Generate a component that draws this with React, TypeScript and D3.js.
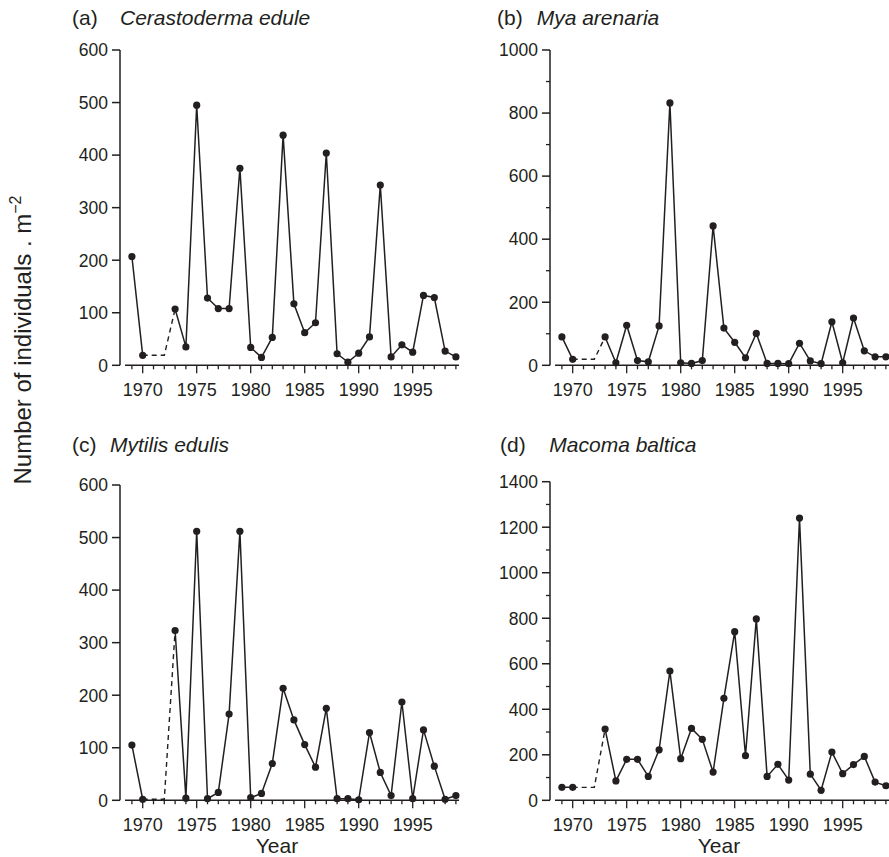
import React from 'react';
import * as d3 from 'd3';

// Survey years (1971 and 1972 were not sampled)
const YEARS = [
  1969, 1970, 1971, 1972, 1973, 1974, 1975, 1976, 1977, 1978, 1979, 1980, 1981, 1982, 1983, 1984,
  1985, 1986, 1987, 1988, 1989, 1990, 1991, 1992, 1993, 1994, 1995, 1996, 1997, 1998, 1999,
];
const YEAR_LABELS = [1970, 1975, 1980, 1985, 1990, 1995];

// Densities, individuals per m²
const CERASTODERMA = [
  207, 19, null, null, 107, 35, 495, 128, 108, 108, 375, 34, 15, 53, 438, 117,
  62, 81, 404, 22, 6, 23, 54, 343, 16, 39, 25, 133, 129, 27, 16,
];
const MYA = [
  90, 19, null, null, 90, 8, 127, 15, 11, 125, 832, 8, 6, 15, 442, 118,
  73, 24, 101, 6, 6, 5, 70, 14, 5, 138, 8, 150, 46, 27, 27,
];
const MYTILUS = [
  105, 2, null, null, 323, 4, 512, 3, 15, 164, 512, 5, 13, 70, 213, 153,
  106, 63, 175, 3, 3, 1, 129, 53, 9, 187, 3, 134, 65, 2, 9,
];
const MACOMA = [
  57, 57, null, null, 313, 85, 180, 180, 105, 222, 568, 183, 316, 268, 124, 448,
  741, 196, 797, 105, 158, 89, 1240, 115, 44, 212, 117, 157, 193, 80, 64,
];

const TICKS_A = [0, 100, 200, 300, 400, 500, 600];
const TICKS_B = [0, 200, 400, 600, 800, 1000];
const TICKS_C = [0, 100, 200, 300, 400, 500, 600];
const TICKS_D = [0, 200, 400, 600, 800, 1000, 1200, 1400];

const INK = '#231f20';
const FONT = 'Liberation Sans, Arial, Helvetica, sans-serif';

type Panel = {
  letter: string;
  species: string;
  values: (number | null)[];
  yMax: number;
  ticks: number[];
  minorStep: number | null;
  axisX: number;
  yTop: number;
  yBottom: number;
  x0: number;
  x1: number;
  axisEnd: number;
  titleY: number;
  letterX: number;
  speciesX: number;
  xTitle: number | null;
};

const PANELS: Panel[] = [
  {
    letter: '(a)', species: 'Cerastoderma edule', values: CERASTODERMA, yMax: 600, ticks: TICKS_A,
    minorStep: null, axisX: 120, yTop: 50, yBottom: 365.3, x0: 131.9, x1: 455.9, axisEnd: 459,
    titleY: 25, letterX: 72, speciesX: 120, xTitle: null,
  },
  {
    letter: '(b)', species: 'Mya arenaria', values: MYA, yMax: 1000, ticks: TICKS_B,
    minorStep: 100, axisX: 550, yTop: 50, yBottom: 365.3, x0: 561.9, x1: 885.9, axisEnd: 889,
    titleY: 25, letterX: 497, speciesX: 536.7, xTitle: null,
  },
  {
    letter: '(c)', species: 'Mytilis edulis', values: MYTILUS, yMax: 600, ticks: TICKS_C,
    minorStep: null, axisX: 120, yTop: 485, yBottom: 800.3, x0: 131.9, x1: 455.9, axisEnd: 459,
    titleY: 451.7, letterX: 72, speciesX: 110, xTitle: 277,
  },
  {
    letter: '(d)', species: 'Macoma baltica', values: MACOMA, yMax: 1400, ticks: TICKS_D,
    minorStep: 100, axisX: 550, yTop: 481.7, yBottom: 800.3, x0: 561.9, x1: 885.9, axisEnd: 889,
    titleY: 451.7, letterX: 500, speciesX: 549.3, xTitle: 719,
  },
];

type Pt = { year: number; v: number | null };

function PanelView({ p }: { p: Panel }) {
  const x = d3.scaleLinear().domain([1969, 1999]).range([p.x0, p.x1]);
  const y = d3.scaleLinear().domain([0, p.yMax]).range([p.yBottom, p.yTop]);
  const pts: Pt[] = YEARS.map((year, i) => ({ year, v: p.values[i] }));

  const line = d3
    .line<Pt>()
    .defined((d) => d.v != null)
    .x((d) => x(d.year))
    .y((d) => y(d.v as number));

  // Unsampled years: bridge from the 1970 level to the 1973 survey
  const i70 = YEARS.indexOf(1970);
  const i73 = YEARS.indexOf(1973);
  const bridge: Pt[] = [
    { year: 1970, v: p.values[i70] },
    { year: 1972, v: p.values[i70] },
    { year: 1973, v: p.values[i73] },
  ];

  const minor = p.minorStep ? d3.range(0, p.yMax + 1, p.minorStep).filter((v) => !p.ticks.includes(v)) : [];
  const axisY = y(0);

  return (
    <g>
      <text x={p.letterX} y={p.titleY} fontSize={21} fill={INK}>{p.letter}</text>
      <text x={p.speciesX} y={p.titleY} fontSize={21} fontStyle="italic" fill={INK}>{p.species}</text>

      {/* y axis */}
      <line x1={p.axisX} x2={p.axisX} y1={y(p.yMax)} y2={axisY} stroke={INK} strokeWidth={1.5} />
      {p.ticks.map((t) => (
        <g key={'yt' + t}>
          <line x1={p.axisX - 8} x2={p.axisX} y1={y(t)} y2={y(t)} stroke={INK} strokeWidth={1.5} />
          <text x={p.axisX - 12} y={y(t)} dy="0.36em" textAnchor="end" fontSize={17.5} fill={INK}>{t}</text>
        </g>
      ))}
      {minor.map((t) => (
        <line key={'ym' + t} x1={p.axisX - 4} x2={p.axisX} y1={y(t)} y2={y(t)} stroke={INK} strokeWidth={1.3} />
      ))}

      {/* x axis */}
      <line x1={p.axisX + 5} x2={p.axisEnd} y1={axisY} y2={axisY} stroke={INK} strokeWidth={1.5} />
      {YEARS.map((yr) => (
        <line
          key={'xt' + yr}
          x1={x(yr)} x2={x(yr)} y1={axisY}
          y2={axisY + (YEAR_LABELS.includes(yr) ? 8 : 4)}
          stroke={INK} strokeWidth={1.3}
        />
      ))}
      {YEAR_LABELS.map((yr) => (
        <text key={'xl' + yr} x={x(yr)} y={axisY + 31} textAnchor="middle" fontSize={18} fill={INK}>{yr}</text>
      ))}
      {p.xTitle != null && (
        <text x={p.xTitle} y={853} textAnchor="middle" fontSize={21} fill={INK}>Year</text>
      )}

      {/* series */}
      <path d={line(bridge) || ''} fill="none" stroke={INK} strokeWidth={1.4} strokeDasharray="5,4" />
      <path d={line(pts) || ''} fill="none" stroke={INK} strokeWidth={1.5} />
      {pts.filter((d) => d.v != null).map((d) => (
        <circle key={'pt' + d.year} cx={x(d.year)} cy={y(d.v as number)} r={3.6} fill={INK} />
      ))}
    </g>
  );
}

export default function App() {
  return (
    <svg
      width={889}
      height={857}
      style={{ position: 'absolute', left: 0, top: 0, display: 'block', background: '#fff' }}
      fontFamily={FONT}
    >
      <rect width={889} height={857} fill="#fff" />
      <text transform="translate(31,340) rotate(-90)" textAnchor="middle" fontSize={24} fill={INK}>
        Number of individuals . m
        <tspan fontSize={16} dy={-10}>−2</tspan>
      </text>
      {PANELS.map((p) => (
        <PanelView key={p.letter} p={p} />
      ))}
    </svg>
  );
}
